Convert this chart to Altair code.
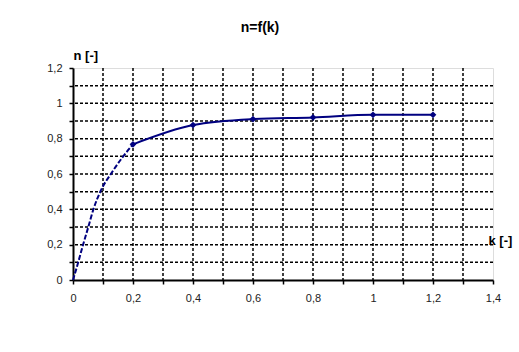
import altair as alt
import pandas as pd

# measured points
k_pts = [0.2, 0.4, 0.6, 0.8, 1.0, 1.2]
n_pts = [0.768, 0.877, 0.911, 0.92, 0.935, 0.935]

# dashed start of the curve
k_start = [0.0, 0.018, 0.032, 0.051, 0.068, 0.091, 0.13, 0.163, 0.2]
n_start = [0.0, 0.104, 0.19, 0.30, 0.40, 0.50, 0.61, 0.69, 0.768]

x_ticks = [0.0, 0.1, 0.2, 0.3, 0.4, 0.5, 0.6, 0.7, 0.8, 0.9, 1.0, 1.1, 1.2, 1.3, 1.4]
y_ticks = [0.0, 0.1, 0.2, 0.3, 0.4, 0.5, 0.6, 0.7, 0.8, 0.9, 1.0, 1.1, 1.2]
x_grid = [0.1, 0.2, 0.3, 0.4, 0.5, 0.6, 0.7, 0.8, 0.9, 1.0, 1.1, 1.2, 1.3]
y_grid = [0.1, 0.2, 0.3, 0.4, 0.5, 0.6, 0.7, 0.8, 0.9, 1.0, 1.1]

main = pd.DataFrame({"k": k_pts, "n": n_pts})
start = pd.DataFrame({"k": k_start, "n": n_start})
xg = pd.DataFrame({"k": x_grid})
yg = pd.DataFrame({"n": y_grid})

FONT = "Liberation Sans"
NAVY = "#000080"

label_expr = "round(datum.value*10) % 2 == 0 ? replace(format(datum.value, '.1~f'), '.', ',') : ''"

xs = alt.Scale(domain=[0, 1.4], nice=False, zero=True)
ys = alt.Scale(domain=[0, 1.2], nice=False)

common = dict(
    labelExpr=label_expr,
    labelOverlap=False,
    tickCount=40,
    grid=False,
    tickColor="black",
    tickSize=4,
    tickWidth=1.5,
    domainColor="black",
    domainWidth=2,
    labelFont=FONT,
    labelFontSize=11,
    labelColor="#222",
    labelFlush=False,
    titleFont=FONT,
    titleFontSize=13,
    titleFontWeight="bold",
    titleColor="black",
    titleAlign="left",
    titleBaseline="middle",
    titleAngle=0,
)

x_axis = alt.Axis(
    values=x_ticks,
    labelPadding=8,
    title="k [-]",
    titleX=415,
    titleY=-40,
    **common,
)
y_axis = alt.Axis(
    values=y_ticks,
    labelPadding=7,
    title="n [-]",
    titleX=0,
    titleY=-13,
    **common,
)

vgrid = alt.Chart(xg).mark_rule(color="black", strokeWidth=1.5, strokeDash=[3, 2]).encode(
    x=alt.X("k:Q", scale=xs, axis=x_axis)
)
hgrid = alt.Chart(yg).mark_rule(color="black", strokeWidth=1.5, strokeDash=[3, 2]).encode(
    y=alt.Y("n:Q", scale=ys, axis=y_axis)
)

dashed = alt.Chart(start).mark_line(
    color=NAVY, strokeWidth=2, strokeDash=[5, 2], interpolate="monotone"
).encode(x="k:Q", y="n:Q")

solid = alt.Chart(main).mark_line(
    color=NAVY, strokeWidth=2, interpolate="monotone"
).encode(x="k:Q", y="n:Q")

pts = alt.Chart(main).mark_point(
    shape="diamond", filled=True, color=NAVY, size=45, opacity=1
).encode(x="k:Q", y="n:Q")

chart = (
    alt.layer(vgrid, hgrid, dashed, solid, pts)
    .properties(
        width=420,
        height=212,
        autosize=alt.AutoSizeParams(type="none"),
        padding={"left": 73, "top": 68, "right": 26, "bottom": 72},
        title=alt.TitleParams(
            "n=f(k)", font=FONT, fontSize=14, fontWeight="bold", anchor="middle",
            offset=14, dx=-23, color="black"
        ),
    )
    .configure_view(stroke=None)
    .configure(background="white")
)

chart.save("out.html", embed_options={"renderer": "svg", "actions": False})
